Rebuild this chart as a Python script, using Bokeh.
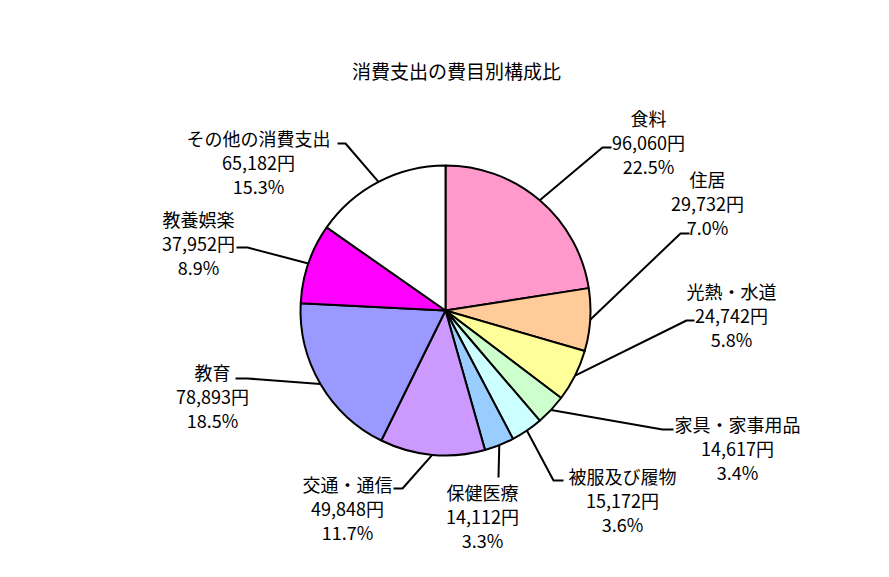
import math
from bokeh.plotting import figure
from bokeh.models import Range1d, ColumnDataSource
from bokeh.core.properties import value
from bokeh.embed import file_html
from bokeh.resources import INLINE

# ---- data ----
categories = ["食料", "住居", "光熱・水道", "家具・家事用品", "被服及び履物",
              "保健医療", "交通・通信", "教育", "教養娯楽", "その他の消費支出"]
amounts = [96060, 29732, 24742, 14617, 15172, 14112, 49848, 78893, 37952, 65182]
colors = ["#FF99CC", "#FFCC99", "#FFFF99", "#CCFFCC", "#CCFFFF",
          "#99CCFF", "#CC99FF", "#9999FF", "#FF00FF", "#FFFFFF"]
title = "消費支出の費目別構成比"

# ---- layout (page pixel coordinates) ----
W, H = 873, 561
cx, cy, R = 445, 310, 145
label_x = [648, 707, 731, 737, 622, 482, 347, 212, 198, 258]
label_y = [117, 178, 290, 423, 475, 491, 483, 371, 218, 137]
line_gap = 24
elbow = [(602, 147), (680, 233), (686, 320), (662, 429), (553, 480),
         (498, 477), (402, 488), (247, 378), (247, 247), (345, 143)]
stub_end = [(611, 147), (689, 233), (694, 320), (673, 429), (563, 480),
            (498, 477), (393, 488), (235, 378), (236, 247), (337, 143)]
FONT = "Noto Sans CJK JP"


def py(y):
    return 577 - y


p = figure(width=W, height=H, x_range=Range1d(0, W), y_range=Range1d(577 - H, 577),
           output_backend="svg", toolbar_location=None,
           x_axis_location=None, y_axis_location=None, min_border=0)
p.outline_line_color = None
p.xgrid.visible = False
p.ygrid.visible = False
p.background_fill_color = "white"
p.border_fill_color = "white"

total = sum(amounts)
starts, ends, mids = [], [], []
cum = 0
for a in amounts:
    s = math.pi / 2 - 2 * math.pi * cum / total
    cum += a
    e = math.pi / 2 - 2 * math.pi * cum / total
    starts.append(s)
    ends.append(e)
    mids.append((s + e) / 2)

src = ColumnDataSource(dict(x=[cx] * len(amounts), y=[py(cy)] * len(amounts),
                            start=starts, end=ends, color=colors))
p.wedge(x="x", y="y", radius=R, start_angle="start", end_angle="end",
        direction="clock", fill_color="color", line_color="black",
        line_width=2, source=src)

# leader lines
xs, ys = [], []
for i, m in enumerate(mids):
    sx = cx + R * math.cos(m)
    sy = cy - R * math.sin(m)
    xs.append([sx, elbow[i][0], stub_end[i][0]])
    ys.append([py(sy), py(elbow[i][1]), py(stub_end[i][1])])
p.multi_line(xs=xs, ys=ys, line_color="black", line_width=2)

# labels
tx, ty, tt = [], [], []
for i, c in enumerate(categories):
    pct = amounts[i] / total * 100
    lines = [c, f"{amounts[i]:,}円", f"{pct:.1f}%"]
    for k, s in enumerate(lines):
        tx.append(label_x[i])
        ty.append(py(label_y[i] + k * line_gap))
        tt.append(s)
p.text(x=tx, y=ty, text=tt, text_align="center", text_baseline="middle",
       text_font=value(FONT), text_font_size="18px", text_color="black")

p.text(x=[456], y=[py(70)], text=[title], text_align="center",
       text_baseline="middle", text_font=value(FONT), text_font_size="19px",
       text_color="black")

open("out.html", "w").write(file_html(p, INLINE))
